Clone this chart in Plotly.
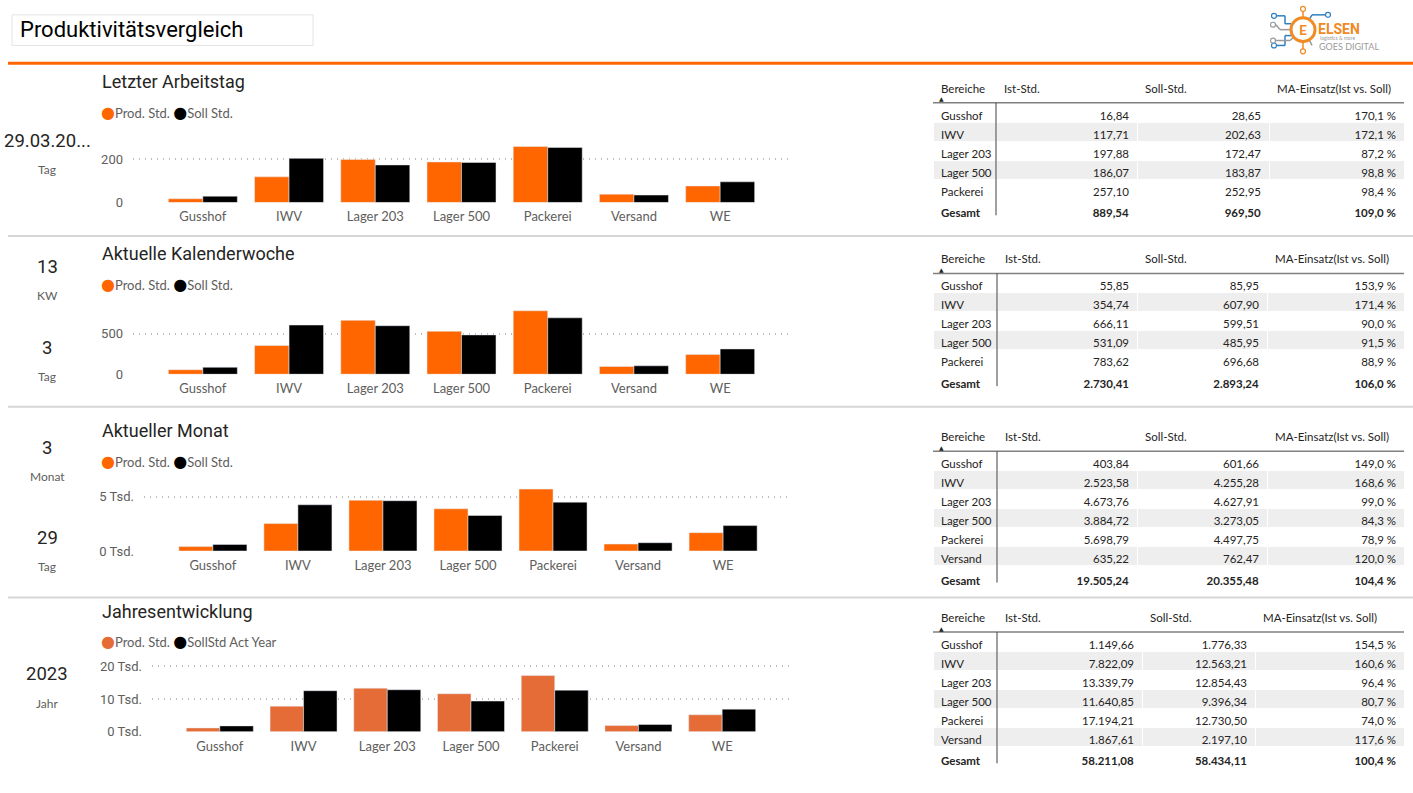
import plotly.graph_objects as go

# Bereiche / categories
bereiche = ["Gusshof", "IWV", "Lager 203", "Lager 500", "Packerei", "Versand", "WE"]

# Letzter Arbeitstag
tag_ist = [16.84, 117.71, 197.88, 186.07, 257.10, 38.09, 75.85]
tag_soll = [28.65, 202.63, 172.47, 183.87, 252.95, 34.04, 94.89]
# Aktuelle Kalenderwoche
kw_ist = [55.85, 354.74, 666.11, 531.09, 783.62, 95.50, 243.50]
kw_soll = [85.95, 607.90, 599.51, 485.95, 696.68, 104.50, 312.75]
# Aktueller Monat
monat_ist = [403.84, 2523.58, 4673.76, 3884.72, 5698.79, 635.22, 1685.33]
monat_soll = [601.66, 4255.28, 4627.91, 3273.05, 4497.75, 762.47, 2337.36]
# Jahresentwicklung
jahr_ist = [1149.66, 7822.09, 13339.79, 11640.85, 17194.21, 1867.61, 5196.87]
jahr_soll = [1776.33, 12563.21, 12854.43, 9396.34, 12730.50, 2197.10, 6916.20]

# tick labels
tag_ticks, tag_ticktext = [0, 200], ["0", "200"]
kw_ticks, kw_ticktext = [0, 500], ["0", "500"]
monat_ticks, monat_ticktext = [0, 5000], ["0 Tsd.", "5 Tsd."]
jahr_ticks, jahr_ticktext = [0, 10000, 20000], ["0 Tsd.", "10 Tsd.", "20 Tsd."]

section_titles = ["Letzter Arbeitstag", "Aktuelle Kalenderwoche", "Aktueller Monat", "Jahresentwicklung"]
legend_ist = ["Prod. Std.", "Prod. Std.", "Prod. Std.", "Prod. Std."]
legend_soll = ["Soll Std.", "Soll Std.", "Soll Std.", "SollStd Act Year"]
table_header = ["Bereiche", "Ist-Std.", "Soll-Std.", "MA-Einsatz(Ist vs. Soll)"]

kpi_values = [["29.03.20..."], ["13", "3"], ["3", "29"], ["2023"]]
kpi_labels = [["Tag"], ["KW", "Tag"], ["Monat", "Tag"], ["Jahr"]]

W, H = 1413, 793
ORANGE = "#FF6600"
ORANGE_YEAR = "#E66C37"
GREY_TXT = "#605E5C"
DARK_TXT = "#252423"
TITLE_FONT = "Roboto"
BODY_FONT = "Lato"


def fx(px):
    return px / W


def fy(py):
    return 1 - py / H


def de(v, nd=2):
    s = f"{v:,.{nd}f}"
    return s.replace(",", "X").replace(".", ",").replace("X", ".")


charts = [
    dict(ist=tag_ist, soll=tag_soll, ticks=tag_ticks, ticktext=tag_ticktext, ymax=286,
         x0=133, x1=790, y0=140, y1=203, orange=ORANGE, title_y=81, legend_y=112),
    dict(ist=kw_ist, soll=kw_soll, ticks=kw_ticks, ticktext=kw_ticktext, ymax=878,
         x0=133, x1=790, y0=305, y1=377, orange=ORANGE, title_y=255, legend_y=286),
    dict(ist=monat_ist, soll=monat_soll, ticks=monat_ticks, ticktext=monat_ticktext, ymax=6000,
         x0=144, x1=792, y0=490, y1=556, orange=ORANGE, title_y=434, legend_y=465),
    dict(ist=jahr_ist, soll=jahr_soll, ticks=jahr_ticks, ticktext=jahr_ticktext, ymax=21800,
         x0=152, x1=790, y0=667, y1=739, orange=ORANGE_YEAR, title_y=617, legend_y=648),
]

fig = go.Figure()
layout = {}
annotations = []
shapes = []

for i, c in enumerate(charts, start=1):
    sfx = "" if i == 1 else str(i)
    fig.add_trace(go.Bar(x=bereiche, y=c["ist"], name=legend_ist[i - 1], marker_color=c["orange"],
                         xaxis="x" + sfx, yaxis="y" + sfx, showlegend=False))
    fig.add_trace(go.Bar(x=bereiche, y=c["soll"], name=legend_soll[i - 1], marker_color="#000000",
                         xaxis="x" + sfx, yaxis="y" + sfx, showlegend=False))
    layout["xaxis" + sfx] = dict(domain=[fx(c["x0"]), fx(c["x1"])], anchor="y" + sfx, type="category",
                                 range=[-0.81, 6.81], showgrid=False, showline=False, zeroline=False,
                                 ticklabelstandoff=5,
                                 tickfont=dict(family=BODY_FONT, size=13, color=GREY_TXT), fixedrange=True)
    layout["yaxis" + sfx] = dict(domain=[fy(c["y1"]), fy(c["y0"])], anchor="x" + sfx, range=[0, c["ymax"]],
                                 tickvals=c["ticks"], ticktext=c["ticktext"], showgrid=True,
                                 gridcolor="#BDBDBD", griddash="1px,5px", gridwidth=1.5, zeroline=False,
                                 ticklabelstandoff=9,
                                 tickfont=dict(family=TITLE_FONT, size=13, color=GREY_TXT), fixedrange=True)

    annotations.append(dict(text=section_titles[i - 1], x=fx(100), y=fy(c["title_y"]), xref="paper",
                            yref="paper", xanchor="left", yanchor="middle", showarrow=False,
                            font=dict(family=TITLE_FONT, size=18, color=DARK_TXT)))
    dot = "font-size:16px;font-family:DejaVu Sans"
    leg = (f"<span style='color:{c['orange']};{dot}'>●</span>{legend_ist[i - 1]} "
           f"<span style='color:#000000;{dot}'>●</span>{legend_soll[i - 1]}")
    annotations.append(dict(text=leg, x=fx(99), y=fy(c["legend_y"]), xref="paper", yref="paper",
                            xanchor="left", yanchor="middle", showarrow=False,
                            font=dict(family=BODY_FONT, size=13, color=GREY_TXT)))

# KPI cards on the left
kpi_pos = [[141], [268, 350], [452, 543], [681]]
for vals, labs, ys in zip(kpi_values, kpi_labels, kpi_pos):
    for v, lab, y in zip(vals, labs, ys):
        annotations.append(dict(text=v, x=fx(47), y=fy(y), xref="paper", yref="paper", showarrow=False,
                                xanchor="center", yanchor="middle",
                                font=dict(family=TITLE_FONT, size=18.5, color=DARK_TXT)))
        annotations.append(dict(text=lab, x=fx(47), y=fy(y + 29), xref="paper", yref="paper", showarrow=False,
                                xanchor="center", yanchor="middle",
                                font=dict(family=BODY_FONT, size=12, color=GREY_TXT)))

# Tables
table_rows = [5, 5, 6, 6]
table_tops = [75, 248, 428, 611]
table_cols = [[933, 996, 1137, 1269, 1404], [933, 997, 1137, 1267, 1404],
              [933, 997, 1137, 1267, 1404], [933, 997, 1142, 1255, 1404]]
HEAD_H, ROW_H = 27, 19
for c, n, top, cols in zip(charts, table_rows, table_tops, table_cols):
    ist, soll = c["ist"], c["soll"]
    tot_i, tot_s = sum(ist), sum(soll)
    col0 = [b.replace(" ", "\u00a0") for b in bereiche[:n]] + ["<b>Gesamt</b>"]
    col1 = [de(v) for v in ist[:n]] + [f"<b>{de(tot_i)}</b>"]
    col2 = [de(v) for v in soll[:n]] + [f"<b>{de(tot_s)}</b>"]
    col3 = [de(s / a * 100, 1) + "\u00a0%" for a, s in zip(ist[:n], soll[:n])] + \
           [f"<b>{de(tot_s / tot_i * 100, 1)}\u00a0%</b>"]
    fills = ["#FFFFFF" if k % 2 == 0 else "#EEEEEE" for k in range(n)] + ["#FFFFFF"]
    widths = [cols[k + 1] - cols[k] for k in range(4)]
    bottom = top + HEAD_H + ROW_H * (n + 1)
    header_vals = [h.replace(" ", "\u00a0") for h in table_header]
    fig.add_trace(go.Table(
        domain=dict(x=[fx(cols[0]), fx(cols[-1])], y=[fy(bottom + 6), fy(top)]),
        columnwidth=widths,
        header=dict(values=header_vals, align="left", height=HEAD_H,
                    fill_color="#FFFFFF", line_color="#FFFFFF",
                    font=dict(family=BODY_FONT, size=11.5, color=DARK_TXT)),
        cells=dict(values=[col0, col1, col2, col3], align=["left", "right", "right", "right"],
                   height=ROW_H, fill_color=[fills] * 4, line=dict(color="#FFFFFF", width=1),
                   font=dict(family=BODY_FONT, size=11.5, color=DARK_TXT)),
    ))
    shapes.append(dict(type="line", xref="paper", yref="paper", x0=fx(cols[0]), x1=fx(cols[-1]),
                       y0=fy(top + HEAD_H), y1=fy(top + HEAD_H), line=dict(color="#808080", width=1.5)))
    shapes.append(dict(type="line", xref="paper", yref="paper", x0=fx(cols[1]), x1=fx(cols[1]),
                       y0=fy(top + HEAD_H), y1=fy(bottom), line=dict(color="#404040", width=1)))
    annotations.append(dict(text="▲", x=fx(941), y=fy(top + 23), xref="paper", yref="paper",
                            showarrow=False, xanchor="center", yanchor="middle",
                            font=dict(family="DejaVu Sans", size=6, color=DARK_TXT)))

# section separators and header line
for y in [237, 410, 603]:
    shapes.append(dict(type="line", xref="paper", yref="paper", x0=fx(8), x1=1, y0=fy(y), y1=fy(y),
                       line=dict(color="#D6D6D6", width=2)))
shapes.append(dict(type="line", xref="paper", yref="paper", x0=fx(8), x1=1, y0=fy(62), y1=fy(62),
                   line=dict(color=ORANGE, width=3)))

# title box
shapes.append(dict(type="rect", xref="paper", yref="paper", x0=fx(12), x1=fx(313), y0=fy(44), y1=fy(13),
                   line=dict(color="#E3E3E3", width=1)))
annotations.append(dict(text="Produktivitätsvergleich", x=fx(18), y=fy(28), xref="paper", yref="paper",
                        showarrow=False, xanchor="left", yanchor="middle",
                        font=dict(family=TITLE_FONT, size=22, color="#000000")))

# logo (ELSEN goes digital)
LOGO_OR, LOGO_BL, LOGO_GR = "#F08A24", "#2F7FC1", "#9A9A9A"
cx, cy = 1303, 28
logo_lines = [
    (cx - 12, cy - 6, 1285, cy - 6, LOGO_BL), (1285, cy - 6, 1285, 14, LOGO_BL), (1285, 14, 1277, 14, LOGO_BL),
    (cx - 12, cy, 1280, cy, LOGO_GR), (1280, cy, 1276, 23, LOGO_GR),
    (cx - 12, cy + 6, 1285, cy + 6, LOGO_BL), (1285, cy + 6, 1285, 44, LOGO_BL), (1285, 44, 1277, 44, LOGO_BL),
    (cx - 5, cy + 4, 1290, 39, LOGO_GR), (1290, 39, 1276, 39, LOGO_GR),
    (cx, cy - 12, cx, 9, LOGO_OR), (cx, cy + 12, cx, 48, LOGO_OR),
    (cx + 6, cy - 10, 1312, 13, LOGO_BL), (1312, 13, 1325, 13, LOGO_BL),
    (cx + 6, cy + 10, 1312, 44, LOGO_GR),
]
for x0, y0, x1, y1, col in logo_lines:
    shapes.append(dict(type="line", xref="paper", yref="paper", x0=fx(x0), x1=fx(x1), y0=fy(y0), y1=fy(y1),
                       line=dict(color=col, width=1.5)))
for x, y, col in [(1274, 14, LOGO_BL), (1273, 23, LOGO_GR), (1274, 44, LOGO_BL), (1273, 39, LOGO_GR),
                  (cx, 7, LOGO_OR), (cx, 50, LOGO_OR), (1328, 13, LOGO_BL)]:
    shapes.append(dict(type="circle", xref="paper", yref="paper", x0=fx(x - 2.5), x1=fx(x + 2.5),
                       y0=fy(y + 2.5), y1=fy(y - 2.5), line=dict(color=col, width=1.2), fillcolor="#FFFFFF"))
shapes.append(dict(type="circle", xref="paper", yref="paper", x0=fx(cx - 12), x1=fx(cx + 12),
                   y0=fy(cy + 12), y1=fy(cy - 12), line=dict(color=LOGO_OR, width=3), fillcolor="#FFFFFF"))
annotations.append(dict(text="<b>E</b>", x=fx(cx), y=fy(cy), xref="paper", yref="paper", showarrow=False,
                        xanchor="center", yanchor="middle", font=dict(family=BODY_FONT, size=14, color=LOGO_OR)))
annotations.append(dict(text="<b>ELSEN</b>", x=fx(1316), y=fy(27), xref="paper", yref="paper", showarrow=False,
                        xanchor="left", yanchor="middle", font=dict(family=TITLE_FONT, size=14, color=LOGO_OR)))
annotations.append(dict(text="logistics & more", x=fx(1318), y=fy(36), xref="paper", yref="paper",
                        showarrow=False, xanchor="left", yanchor="middle",
                        font=dict(family=BODY_FONT, size=5, color=LOGO_GR)))
annotations.append(dict(text="GOES DIGITAL", x=fx(1317), y=fy(45), xref="paper", yref="paper", showarrow=False,
                        xanchor="left", yanchor="middle", font=dict(family=BODY_FONT, size=9, color=LOGO_GR)))

fig.update_layout(
    width=W, height=H,
    margin=dict(l=0, r=0, t=0, b=0),
    paper_bgcolor="#FFFFFF", plot_bgcolor="#FFFFFF",
    barmode="group", bargap=0.2, bargroupgap=0,
    showlegend=False,
    annotations=annotations, shapes=shapes,
    **layout,
)

fig.write_html("out.html", config={"displayModeBar": False},
               post_script="document.body.style.margin='0';")
